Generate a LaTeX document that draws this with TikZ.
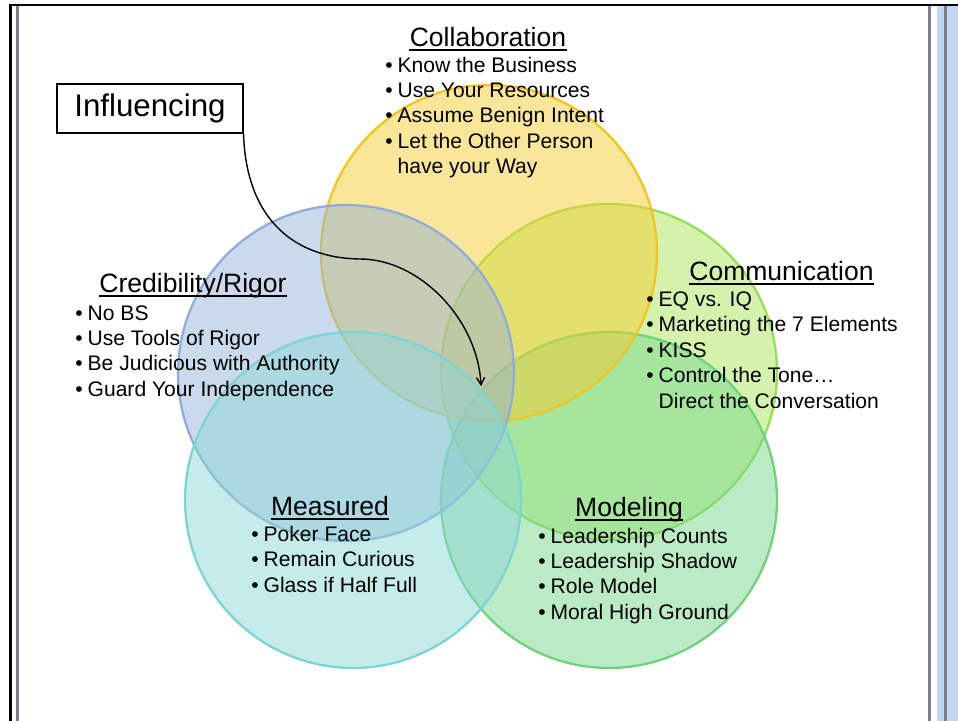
\documentclass[tikz,border=0pt]{standalone}
\usepackage{fontspec}
\setmainfont{Liberation Sans}
\usepackage{tikz}
\usetikzlibrary{arrows,shapes,positioning}
\usepackage{xcolor}
\definecolor{vnyellow}{RGB}{245,205,50}
\definecolor{vnyellowline}{RGB}{243,196,30}
\definecolor{vnblue}{RGB}{149,179,215}
\definecolor{vnblueline}{RGB}{143,172,220}
\definecolor{vnlime}{RGB}{170,230,90}
\definecolor{vnlimeline}{RGB}{150,222,85}
\definecolor{vnteal}{RGB}{140,215,215}
\definecolor{vntealline}{RGB}{125,212,212}
\definecolor{vngreen}{RGB}{120,215,140}
\definecolor{vngreenline}{RGB}{110,210,125}
\definecolor{framegray}{RGB}{125,128,140}
\definecolor{bandblue}{RGB}{196,212,245}
\tikzstyle{arrow} = [thick,->,>=angle 60,color=black]
\tikzstyle{venn} = [circle, minimum size=6.72cm, inner sep=0pt, line width=1.3pt, fill opacity=0.5]
\tikzstyle{heading} = [anchor=base, inner sep=0pt, font=\fontsize{15.1}{18}\selectfont]
\tikzstyle{points} = [anchor=base west, inner sep=0pt, font=\fontsize{12}{14.46}\selectfont]
\tikzstyle{uline} = [line width=1pt]
\tikzstyle{callout} = [rectangle, draw=black, line width=0.6pt, minimum width=3.72cm, minimum height=0.98cm, font=\fontsize{17.8}{21}\selectfont]
\newcommand{\bullist}[1]{\begin{tabular}[t]{@{}l@{\hspace{2.8pt}}l@{}}#1\end{tabular}}

\begin{document}
\begin{tikzpicture}[x=0.02cm, y=-0.02cm]
\useasboundingbox (0,0) rectangle (958,721);

% slide frame
\fill[bandblue] (937,6) rectangle (958,721);
\draw[framegray, line width=1.5pt] (945.5,6) -- (945.5,721);
\draw[framegray, line width=1.7pt] (17.5,6) -- (17.5,721);
\draw[framegray, line width=1.7pt] (929.5,6) -- (929.5,721);
\draw[line width=1.7pt] (10.5,4.5) -- (10.5,721);
\draw[line width=1.1pt] (9,5.2) -- (958,5.2);

% the five circles
\node (limec) [venn, fill=vnlime, draw=vnlimeline] at (609,372) {};
\node (greenc) [venn, fill=vngreen, draw=vngreenline] at (609,500) {};
\node (yellowc) [venn, fill=vnyellow, draw=vnyellowline] at (489,253) {};
\node (bluec) [venn, fill=vnblue, draw=vnblueline] at (346,373) {};
\node (tealc) [venn, fill=vnteal, draw=vntealline] at (353,500) {};

% Collaboration
\node (collab) [heading] at (488,46) {Collaboration};
\draw[uline] ([yshift=-2.3pt]collab.base west) -- ([yshift=-2.3pt]collab.base east);
\node (collablist) [points] at (385,72) {\bullist{
\textbullet & Know the Business\\
\textbullet & Use Your Resources\\
\textbullet & Assume Benign Intent\\
\textbullet & Let the Other Person\\
 & have your Way}};

% Credibility/Rigor
\node (cred) [heading] at (193,292) {Credibility/Rigor};
\draw[uline] ([yshift=-2.3pt]cred.base west) -- ([yshift=-2.3pt]cred.base east);
\node (credlist) [points] at (75,320) {\bullist{
\textbullet & No BS\\
\textbullet & Use Tools of Rigor\\
\textbullet & Be Judicious with Authority\\
\textbullet & Guard Your Independence}};

% Communication
\node (comm) [heading] at (781.5,280) {Communication};
\draw[uline] ([yshift=-2.3pt]comm.base west) -- ([yshift=-2.3pt]comm.base east);
\node (commlist) [points] at (646,306.5) {\bullist{
\textbullet & EQ vs. IQ\\
\textbullet & Marketing the 7 Elements\\
\textbullet & KISS\\
\textbullet & Control the Tone…\\
 & Direct the Conversation}};

% Measured
\node (meas) [heading] at (330,515) {Measured};
\draw[uline] ([yshift=-2.3pt]meas.base west) -- ([yshift=-2.3pt]meas.base east);
\node (measlist) [points] at (251,541.5) {\bullist{
\textbullet & Poker Face\\
\textbullet & Remain Curious\\
\textbullet & Glass if Half Full}};

% Modeling
\node (model) [heading] at (629,516) {Modeling};
\draw[uline] ([yshift=-2.3pt]model.base west) -- ([yshift=-2.3pt]model.base east);
\node (modellist) [points] at (538,543) {\bullist{
\textbullet & Leadership Counts\\
\textbullet & Leadership Shadow\\
\textbullet & Role Model\\
\textbullet & Moral High Ground}};

% Influencing callout
\node (infl) [callout] at (150,108.5) {Influencing};
\coordinate (bend) at (360,259);
\coordinate (core) at (481,386);
\draw[arrow] (infl.south east) .. controls (246,215) and (290,258) .. (bend)
  .. controls (420,259) and (478,320) .. (core);

\end{tikzpicture}
\end{document}
